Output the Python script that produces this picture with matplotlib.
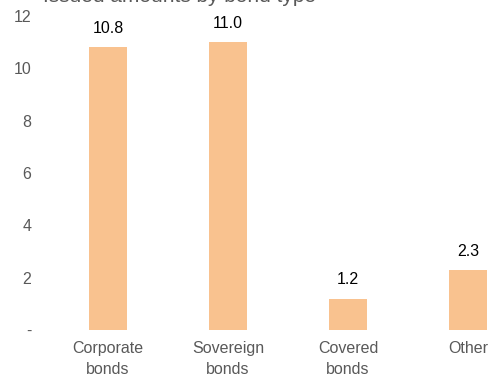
import matplotlib

matplotlib.use("Agg")
import matplotlib.pyplot as plt  # noqa: E402

plt.rcParams["font.family"] = ["Liberation Sans", "DejaVu Sans"]

categories = ["Corporate\nbonds", "Sovereign\nbonds", "Covered\nbonds", "Other"]
values = [10.8, 11.0, 1.2, 2.3]
yticks = [0, 2, 4, 6, 8, 10, 12]
ytick_labels = ["-", "2", "4", "6", "8", "10", "12"]
title = "Issued amounts by bond type"

BAR = "#F9C28F"
GREY = "#595959"

fig = plt.figure(figsize=(4.92, 3.78), dpi=100)
# axes run past the right edge, like the cropped original
ax = fig.add_axes([48 / 492, 48 / 378, 480 / 492, 314 / 378])

x = range(len(categories))
ax.bar(x, values, width=0.31, color=BAR)
for xi, v in zip(x, values):
    ax.annotate(f"{v:.1f}", (xi, v), xytext=(0, 8), textcoords="offset points",
                ha="center", va="bottom", fontsize=11.5, color="black")

ax.set_xlim(-0.5, 3.5)
ax.set_ylim(0, 12)
ax.set_yticks(yticks)
ax.set_yticklabels(ytick_labels)
ax.set_xticks(list(x))
ax.set_xticklabels(categories, linespacing=1.45)
ax.tick_params(axis="both", length=0, labelsize=11.5, labelcolor=GREY)
ax.tick_params(axis="y", pad=12)
ax.tick_params(axis="x", pad=8)
for s in ax.spines.values():
    s.set_visible(False)

# title mostly cut off at the top edge
fig.text(43 / 492, 1 - 2 / 378, title, ha="left", va="baseline",
         fontsize=15, color=GREY)

fig.savefig("out.png", dpi=100)
